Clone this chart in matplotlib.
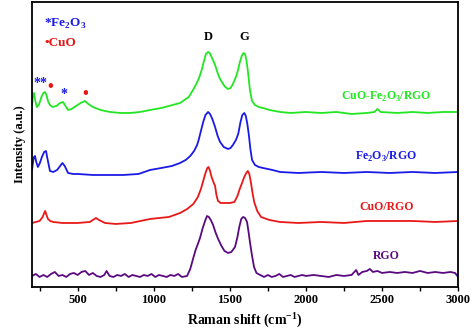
import numpy as np
import matplotlib.pyplot as plt

plt.rcParams["font.family"] = ["Liberation Serif", "DejaVu Serif"]
plt.rcParams["font.weight"] = "bold"
plt.rcParams["mathtext.fontset"] = "custom"
plt.rcParams["mathtext.rm"] = "Liberation Serif:bold"
plt.rcParams["mathtext.bf"] = "Liberation Serif:bold"

# Raman spectra, stacked with offsets (a.u.)
x_green = [200, 206, 213, 222, 232, 245, 262, 275, 285, 295, 305, 318, 335, 360, 385, 404,
           420, 437, 460, 490, 520, 548, 570, 600, 650, 713, 780, 844, 910, 976,
           1050, 1100, 1173, 1230, 1258, 1280, 1300, 1315, 1330, 1343, 1357, 1368, 1380,
           1392, 1403, 1420, 1436, 1455, 1470, 1488, 1505, 1520, 1540, 1554, 1566, 1578,
           1590, 1600, 1610, 1620, 1632, 1646, 1665, 1690, 1718, 1760, 1830, 1900, 2000,
           2100, 2200, 2300, 2400, 2450, 2470, 2490, 2600, 2700, 2800, 2900, 3000]
y_green = [181, 190, 194, 186, 180, 182, 190, 194, 195, 192, 186, 182, 180, 181, 184, 185,
           181, 177, 178, 181, 184, 186, 183, 180, 177, 175, 174, 174, 175, 177,
           179, 181, 184, 190, 197, 203, 210, 217, 226, 233, 235, 234, 230,
           226, 222, 214, 208, 203, 200, 198, 199, 203, 210, 217, 225, 231,
           234, 233, 226, 214, 197, 186, 182, 180, 179, 177, 175, 174, 175,
           174, 175, 173, 174, 175, 178, 175, 174, 175, 174, 175, 175]

x_blue = [200, 207, 213, 220, 228, 239, 252, 265, 280, 292, 302, 318, 340, 365, 385, 400,
          415, 437, 470, 500, 600, 700, 800, 900, 976, 1050, 1120, 1173, 1210, 1240, 1265,
          1285, 1295, 1310, 1325, 1340, 1357, 1370, 1385, 1403, 1420, 1436, 1460, 1488,
          1505, 1520, 1540, 1555, 1570, 1582, 1595, 1605, 1615, 1625, 1635, 1646, 1665,
          1690, 1718, 1780, 1830, 1950, 2100, 2250, 2400, 2550, 2700, 2850, 3000]
y_blue = [117, 125, 130, 131, 125, 120, 124, 130, 135, 136, 128, 116, 115, 117, 121, 124,
          121, 114, 113, 113, 112, 112, 112, 113, 117, 119, 121, 124, 127, 131, 136,
          142, 147, 156, 165, 172, 175, 173, 168, 160, 151, 145, 140, 138,
          139, 142, 147, 153, 165, 172, 174, 171, 163, 152, 138, 127, 122,
          120, 119, 117, 115, 114, 115, 114, 115, 114, 115, 114, 115]

x_red = [200, 250, 270, 280, 287, 295, 305, 320, 340, 400, 500, 580, 600, 620, 640, 680,
         750, 850, 976, 1100, 1173, 1220, 1260, 1290, 1310, 1325, 1340, 1352, 1360, 1370,
         1380, 1392, 1403, 1412, 1422, 1440, 1500, 1530, 1550, 1565, 1580, 1595, 1608,
         1618, 1628, 1638, 1648, 1660, 1680, 1705, 1760, 1830, 1950, 2100, 2250, 2400,
         2550, 2700, 2850, 3000]
y_red = [64, 66, 70, 74, 76, 72, 68, 66, 65, 64, 64, 65, 67, 69, 67, 64,
         63, 64, 68, 70, 74, 78, 83, 90, 98, 106, 114, 119, 120, 116,
         110, 105, 101, 92, 86, 84, 84, 85, 91, 98, 104, 110, 114,
         116, 113, 105, 95, 85, 76, 70, 67, 65, 64, 65, 64, 66,
         66, 66, 65, 66]

x_purple = [200, 225, 250, 275, 300, 325, 350, 375, 400, 425, 450, 475, 500, 525, 550, 575,
            600, 625, 650, 675, 690, 710, 735, 760, 785, 810, 835, 860, 885, 910, 935, 960,
            985, 1010, 1035, 1060, 1085, 1110, 1135, 1160, 1185, 1219, 1240, 1258, 1275,
            1290, 1304, 1320, 1337, 1350, 1362, 1375, 1390, 1405, 1423, 1445, 1465, 1488,
            1510, 1534, 1550, 1562, 1575, 1587, 1600, 1613, 1623, 1633, 1645, 1659, 1675,
            1699, 1725, 1750, 1775, 1800, 1825, 1850, 1875, 1900, 1925, 1950, 1975, 2000,
            2050, 2100, 2150, 2200, 2250, 2300, 2330, 2345, 2370, 2400, 2420, 2440, 2470,
            2500, 2550, 2600, 2650, 2700, 2750, 2800, 2850, 2900, 2950, 2980, 3000]
y_purple = [11, 13, 10, 12, 10, 13, 15, 11, 12, 10, 13, 14, 12, 15, 16, 12,
            14, 11, 10, 12, 16, 11, 10, 12, 11, 13, 10, 12, 11, 10, 12, 11,
            13, 10, 12, 11, 10, 12, 11, 13, 10, 11, 18, 28, 37,
            43, 49, 58, 66, 71, 70, 67, 62, 55, 48, 41, 36, 34,
            35, 40, 50, 60, 68, 70, 69, 65, 55, 44, 32, 20, 14,
            12, 10, 12, 10, 11, 13, 10, 11, 12, 10, 11, 12, 11,
            12, 11, 10, 12, 11, 12, 17, 12, 15, 16, 18, 15, 16,
            14, 15, 14, 15, 14, 16, 14, 15, 14, 15, 14, 10]

green = "#22e622"
blue = "#1a1ae6"
red = "#e81818"
purple = "#5a0a80"

fig = plt.figure(figsize=(4.74, 3.31), dpi=100)
ax = fig.add_axes([0.0675, 0.133, 0.899, 0.861])

ax.plot(x_green, y_green, color=green, lw=1.3)
ax.plot(x_blue, y_blue, color=blue, lw=1.3)
ax.plot(x_red, y_red, color=red, lw=1.3)
ax.plot(x_purple, y_purple, color=purple, lw=1.3)

ax.set_xlim(200, 3000)
ax.set_ylim(0, 285)
ax.set_xticks([500, 1000, 1500, 2000, 2500, 3000])
ax.set_xticks(np.arange(250, 3001, 250), minor=True)
ax.tick_params(axis="x", which="both", direction="out", length=3, width=1, labelsize=9, pad=2)
ax.tick_params(axis="y", left=False, labelleft=False)
for s in ax.spines.values():
    s.set_linewidth(1.3)

ax.set_xlabel("Raman shift (cm$^{-1}$)", fontsize=10, fontweight="bold", labelpad=3)
ax.set_ylabel("Intensity (a.u.)", fontsize=9, fontweight="bold", labelpad=4)

# sample labels
ax.text(2530, 190, "CuO-Fe$_2$O$_3$/RGO", color=green, fontsize=8.5, ha="center", va="center")
ax.text(2530, 130, "Fe$_2$O$_3$/RGO", color=blue, fontsize=8.5, ha="center", va="center")
ax.text(2530, 80, "CuO/RGO", color=red, fontsize=8.5, ha="center", va="center")
ax.text(2530, 31, "RGO", color=purple, fontsize=8.5, ha="center", va="center")

# band labels
ax.text(1357, 250, "D", fontsize=9, ha="center", va="center")
ax.text(1593, 250, "G", fontsize=9, ha="center", va="center")

# phase key
ax.text(280, 263, "*Fe$_2$O$_3$", color=blue, fontsize=9.5, ha="left", va="center")
ax.text(280, 244, "\u2022CuO", color=red, fontsize=9.5, ha="left", va="center")

# peak markers
ax.text(255, 203, "**", color=blue, fontsize=10, ha="center", va="center")
ax.text(410, 192, "*", color=blue, fontsize=10, ha="center", va="center")
ax.text(322, 200, "\u2022", color=red, fontsize=12, ha="center", va="center")
ax.text(552, 193, "\u2022", color=red, fontsize=12, ha="center", va="center")

fig.savefig("out.png", dpi=100)
